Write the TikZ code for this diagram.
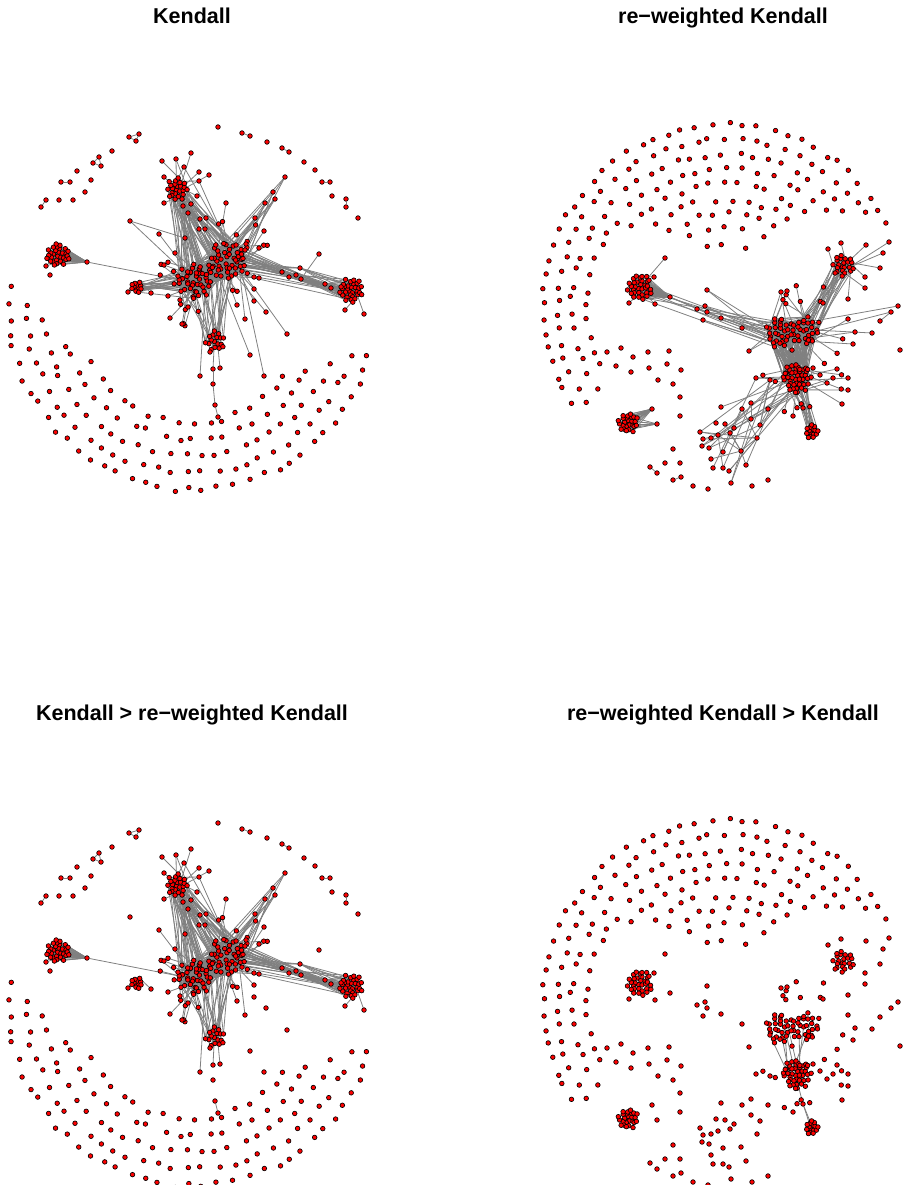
\documentclass[tikz,border=0pt]{standalone}
\usepackage{fontspec}
\setmainfont{Liberation Sans}
\pgfdeclarelayer{edgelayer}
\pgfsetlayers{edgelayer,main}
\definecolor{edgegray}{RGB}{128,128,128}
\tikzset{
  vtx/.style={circle,fill=red,draw=black,line width=0.65pt,inner sep=0pt,minimum size=4.6pt},
  edg/.style={draw=edgegray,line width=0.8pt},
  ttl/.style={font=\bfseries\fontsize{21.5}{24}\selectfont,anchor=base,inner sep=0pt}
}

% a tightly packed group of vertices: name, cx, cy, count, radius, jitter
\newcommand\vdisc[6]{%
  \foreach \i in {1,...,#4}{%
    \pgfmathsetmacro\vR{#5*sqrt((\i-0.5)/#4)}%
    \pgfmathsetmacro\vA{\i*137.508+20*(rnd-0.5)}%
    \pgfmathsetmacro\vX{#2+\vR*cos(\vA)+#6*(rnd-0.5)}%
    \pgfmathsetmacro\vY{#3+\vR*sin(\vA)+#6*(rnd-0.5)}%
    \node[vtx] (#1-\i) at (\vX,\vY) {};}}

% a loose cloud of vertices: name, cx, cy, count, radius
\newcommand\vcloud[5]{%
  \foreach \i in {1,...,#4}{%
    \pgfmathsetmacro\vR{#5*sqrt(rnd)}%
    \pgfmathsetmacro\vA{360*rnd}%
    \node[vtx] (#1-\i) at ({#2+\vR*cos(\vA)},{#3+\vR*sin(\vA)}) {};}}

% a row of vertices on an arc: name, cx, cy, radius, from angle, to angle, spacing
\newcommand\varc[7]{%
  \pgfmathtruncatemacro\vN{max(1,abs(#6-#5)*pi/180*#4/#7)}%
  \pgfmathsetmacro\vS{(#6-#5)/\vN}%
  \foreach \j in {0,...,\vN}{%
    \pgfmathsetmacro\vA{#5+\vS*(\j+0.5*(rnd-0.5))}%
    \pgfmathsetmacro\vR{#4+5*(rnd-0.5)}%
    \node[vtx] (#1-\j) at ({#2+\vR*cos(\vA)},{#3-\vR*sin(\vA)}) {};}}

% listed vertices: name, list of x/y
\newcommand\vlist[2]{%
  \foreach \x/\y [count=\c] in {#2}{\node[vtx] (#1-\c) at (\x,\y) {};}}

% every vertex of #1 (1..#2) joined to #5 random vertices of #3 (1..#4)
\newcommand\vfan[5]{%
  \foreach \i in {1,...,#2}{\foreach \k in {1,...,#5}{%
    \pgfmathtruncatemacro\vJ{random(1,#4)}%
    \draw[edg] (#1-\i) -- (#3-\vJ);}}}

% #3 random edges between #1 (1..#2) and #4 (1..#5)
\newcommand\vlinks[5]{%
  \foreach \k in {1,...,#3}{%
    \pgfmathtruncatemacro\vI{random(1,#2)}%
    \pgfmathtruncatemacro\vJ{random(1,#5)}%
    \draw[edg] (#1-\vI) -- (#4-\vJ);}}

% #3 random edges inside #1 (1..#2)
\newcommand\vinside[3]{%
  \foreach \k in {1,...,#3}{%
    \pgfmathtruncatemacro\vI{random(1,#2)}%
    \pgfmathtruncatemacro\vJ{random(1,#2)}%
    \ifnum\vI=\vJ\else\draw[edg] (#1-\vI) -- (#1-\vJ);\fi}}

% ---------- Kendall network: vertices ----------
\newcommand\panelKnodes[1]{%
  \pgfmathsetseed{2718}%
  \varc{#1-r1}{192}{307}{183}{174}{345}{15}%
  \varc{#1-r2}{192}{307}{166}{179}{342}{15}%
  \varc{#1-r3}{192}{307}{149}{185}{337}{15}%
  \varc{#1-r4}{192}{307}{132}{196}{332}{15}%
  \varc{#1-r5}{192}{307}{116}{210}{323}{15}%
  \vlist{#1-u}{218/127,242/133,250/136,267/142,282/148,289/152,304/162,315/170,322/182,330/182,332/196,346/199,346/207,358/218,129/137,139/134,136/141,112/151,99/157,93/163,101/166,77/171,91/180,61/182,70/182,85/192,46/200,41/207,59/200,73/200}%
  \vdisc{#1-hA}{195}{281}{40}{18}{4}%
  \vdisc{#1-hB}{228}{261}{42}{19}{4}%
  \vcloud{#1-zA}{192}{288}{14}{40}%
  \vcloud{#1-zB}{232}{255}{14}{40}%
  \vdisc{#1-T}{177}{189}{24}{11}{1.5}%
  \vdisc{#1-L}{58}{255}{30}{12}{1.5}%
  \vdisc{#1-S}{137}{287}{12}{6}{1}%
  \vdisc{#1-R}{351}{290}{32}{12}{1.5}%
  \vdisc{#1-B}{216}{341}{17}{10}{2}%
  \vlist{#1-ts}{162/161,176/159,191/153,184/167,199/172,209/175,199/181,164/177,164/203,191/204,183/206,188/213,200/219,206/218,199/229,205/229,197/196}%
  \vlist{#1-sA}{175/253,159/234,170/318,182/324,188/307,168/296,200/376,210/352,185/238,180/300,164/265}%
  \vlist{#1-sB}{226/203,246/244,245/250,259/248,264/231,254/277,254/289,259/278,237/305,245/319}%
  \vlist{#1-sW}{255/218,265/203,275/199,273/192,285/177}%
  \vlist{#1-sX}{130/221,254/301,266/312,287/334,250/355,264/376}%
  \vlist{#1-rb}{282/272,289/277,296/275,300/268,301/279,325/284,331/288,319/254}%
  \vlist{#1-rs}{345/310,364/314}%
  \vlist{#1-lb}{87/262,46/266,50/275}%
  \vlist{#1-ss}{128/292,151/293}%
  \vlist{#1-bc}{213/369,220/368,213/384,215/405,218/417}%
}

% ---------- Kendall network: edges (#2 = 1 draws the full set) ----------
\newcommand\panelKedges[2]{%
  \pgfmathsetseed{4242}%
  \foreach \a/\b in {2/3,5/6,9/10,12/13,15/16,16/17,15/17,19/20,20/21,19/21,24/25,27/28}
    {\draw[edg] (#1-u-\a) -- (#1-u-\b);}%
  \vinside{#1-hA}{40}{110}%
  \vinside{#1-hB}{42}{110}%
  \vlinks{#1-hA}{40}{140}{#1-hB}{42}%
  \vfan{#1-zA}{14}{#1-hA}{40}{1}%
  \vfan{#1-zB}{14}{#1-hB}{42}{1}%
  \vinside{#1-T}{24}{35}%
  \vlinks{#1-T}{24}{28}{#1-hA}{40}%
  \vlinks{#1-T}{24}{28}{#1-hB}{42}%
  \vfan{#1-ts}{17}{#1-T}{24}{1}%
  \vlinks{#1-ts}{17}{8}{#1-hB}{42}%
  \vinside{#1-L}{30}{50}%
  \vfan{#1-L}{30}{#1-lb}{1}{1}%
  \vlinks{#1-lb}{3}{4}{#1-L}{30}%
  \draw[edg] (#1-lb-1) -- (#1-hA-1);
  \vinside{#1-S}{12}{15}%
  \vfan{#1-ss}{2}{#1-S}{12}{1}%
  \vinside{#1-R}{32}{50}%
  \vfan{#1-R}{32}{#1-rb}{7}{1}%
  \vlinks{#1-R}{32}{12}{#1-hB}{42}%
  \vfan{#1-rb}{7}{#1-hB}{42}{3}%
  \vfan{#1-rs}{2}{#1-R}{32}{1}%
  \vinside{#1-B}{17}{22}%
  \vlinks{#1-B}{17}{12}{#1-hA}{40}%
  \vlinks{#1-B}{17}{12}{#1-hB}{42}%
  \vfan{#1-sA}{11}{#1-hA}{40}{1}%
  \vfan{#1-sB}{10}{#1-hB}{42}{1}%
  \vfan{#1-sW}{5}{#1-hB}{42}{3}%
  \draw[edg] (#1-bc-1) -- (#1-B-1);
  \draw[edg] (#1-bc-2) -- (#1-B-2);
  \draw[edg] (#1-bc-4) -- (#1-bc-5);
  \ifnum#2=1
    \vfan{#1-S}{12}{#1-hA}{40}{2}%
    \draw[edg] (#1-sX-1) -- (#1-sA-9);
    \draw[edg] (#1-sX-1) -- (#1-hA-3);
    \foreach \q in {2,...,6}{%
      \pgfmathtruncatemacro\vJ{random(1,42)}%
      \draw[edg] (#1-sX-\q) -- (#1-hB-\vJ);}%
    \draw[edg] (#1-rb-8) -- (#1-rb-5);
    \draw[edg] (#1-bc-1) -- (#1-bc-3);
    \draw[edg] (#1-bc-3) -- (#1-bc-4);
  \fi
}

% ---------- re-weighted Kendall network: vertices ----------
\newcommand\panelRnodes[1]{%
  \pgfmathsetseed{1618}%
  \varc{#1-r1}{725}{307}{183}{212}{28}{15}%
  \varc{#1-r2}{725}{307}{168}{214}{33}{15}%
  \varc{#1-r3}{725}{307}{153}{212}{39}{15}%
  \varc{#1-r4}{725}{307}{138}{205}{44}{15}%
  \varc{#1-r5}{725}{307}{123}{140}{49}{15}%
  \varc{#1-r6}{725}{307}{108}{131}{53}{15}%
  \varc{#1-r7}{725}{307}{93}{124}{58}{15}%
  \varc{#1-r8}{725}{307}{78}{118}{63}{15}%
  \varc{#1-r9}{725}{307}{63}{106}{74}{15}%
  \vdisc{#1-H1}{780}{333}{28}{15}{4}%
  \vdisc{#1-H2}{806}{331}{26}{14}{4}%
  \vdisc{#1-HL}{797}{378}{40}{15}{2}%
  \vcloud{#1-zU}{795}{328}{14}{50}%
  \vcloud{#1-zD}{800}{385}{12}{44}%
  \vdisc{#1-C1}{640}{287}{32}{13}{1.5}%
  \vdisc{#1-C2}{628}{423}{26}{10}{1.5}%
  \vdisc{#1-C3}{843}{265}{22}{11}{2}%
  \vdisc{#1-C4}{812}{432}{15}{7}{1}%
  \vlist{#1-c1s}{665/258,655/304,629/303,654/277}%
  \vlist{#1-c1b}{670/297}%
  \vlist{#1-c2s}{652/409,657/424}%
  \vlist{#1-c3s}{841/243,828/249,866/245,889/242,883/253,880/268,865/277,865/288,848/299,823/303}%
  \vlist{#1-br}{697/309,705/306,707/290,703/320,707/312,721/318,742/328,749/351,781/292,787/291}%
  \vlist{#1-rs}{848/319,872/333,855/332,853/344,891/312,898/306,900/350,880/321}%
  \vlist{#1-hls}{813/368,820/375,827/383,833/378,837/369,848/378,848/390,842/404,803/408,793/416}%
  \vlist{#1-dl}{721/407,742/409,751/403,751/419,768/409,756/378,770/380,716/423,725/424,734/428,730/433,718/435,700/432,703/439,711/438,702/446,709/448,723/452,741/451,711/459,713/468,723/468,729/471,731/483,746/465,760/425,757/438}%
  \vlist{#1-ll}{607/352,621/348,633/357,648/352,669/351,616/366,631/372,649/368,667/364,681/370,658/380,673/384,680/397,680/416,673/449,665/463,680/463}%
  \vlist{#1-bo}{650/467,657/473,673/480,681/477,693/486,708/489,752/486,768/480}%
}

% ---------- re-weighted Kendall network: edges ----------
\newcommand\panelRedges[1]{%
  \pgfmathsetseed{999}%
  \vinside{#1-H1}{28}{80}%
  \vinside{#1-H2}{26}{70}%
  \vinside{#1-HL}{40}{90}%
  \vlinks{#1-H1}{28}{80}{#1-H2}{26}%
  \vlinks{#1-H1}{28}{55}{#1-HL}{40}%
  \vlinks{#1-H2}{26}{55}{#1-HL}{40}%
  \vfan{#1-zU}{14}{#1-H2}{26}{1}%
  \vfan{#1-zD}{12}{#1-HL}{40}{1}%
  \vinside{#1-C1}{32}{45}%
  \vfan{#1-C1}{32}{#1-c1b}{1}{1}%
  \vfan{#1-c1s}{4}{#1-C1}{32}{1}%
  \vlinks{#1-C1}{32}{7}{#1-H1}{28}%
  \draw[edg] (#1-c1b-1) -- (#1-br-1);
  \draw[edg] (#1-c1b-1) -- (#1-br-6);
  \vfan{#1-br}{10}{#1-H1}{28}{2}%
  \vinside{#1-C2}{26}{35}%
  \vfan{#1-C2}{26}{#1-c2s}{2}{1}%
  \vinside{#1-C3}{22}{35}%
  \vfan{#1-C3}{22}{#1-H2}{26}{1}%
  \vfan{#1-c3s}{10}{#1-C3}{22}{1}%
  \vinside{#1-C4}{15}{15}%
  \vfan{#1-C4}{15}{#1-HL}{40}{1}%
  \vfan{#1-rs}{6}{#1-H2}{26}{1}%
  \draw[edg] (#1-rs-8) -- (#1-rs-5);
  \vfan{#1-hls}{10}{#1-HL}{40}{1}%
  \vinside{#1-dl}{27}{26}%
  \vlinks{#1-dl}{27}{16}{#1-HL}{40}%
  \draw[edg] (#1-bo-1) -- (#1-bo-2);
  \draw[edg] (#1-bo-3) -- (#1-bo-4);
}

\begin{document}
\begin{tikzpicture}[x=1pt,y=-1pt]
  \path[use as bounding box] (0,0) rectangle (903,1185);

  % titles
  \node[ttl] (t1) at (192,24) {Kendall};
  \node[ttl] (t2) at (723,24) {re\symbol{"2212}weighted Kendall};
  \node[ttl] (t3) at (192,720) {Kendall > re\symbol{"2212}weighted Kendall};
  \node[ttl] (t4) at (723,720) {re\symbol{"2212}weighted Kendall > Kendall};

  % vertices
  \panelKnodes{a}
  \panelRnodes{b}
  \begin{scope}[yshift=-696pt]
    \panelKnodes{c}
    \panelRnodes{d}
  \end{scope}

  % edges, beneath the vertices
  \begin{pgfonlayer}{edgelayer}
    \panelKedges{a}{1}
    \panelRedges{b}
    \panelKedges{c}{0}
    % the few edges of the difference network
    \draw[edg] (d-HL-1) -- (d-hls-9);
    \draw[edg] (d-hls-9) -- (d-C4-1);
    \draw[edg] (d-hls-9) -- (d-C4-2);
    \pgfmathsetseed{77}
    \vlinks{d-H1}{28}{5}{d-HL}{40}
    \vlinks{d-H2}{26}{3}{d-HL}{40}
    \vinside{d-HL}{40}{4}
    \draw[edg] (d-C1-3) -- (d-C1-7);
  \end{pgfonlayer}
\end{tikzpicture}
\end{document}
